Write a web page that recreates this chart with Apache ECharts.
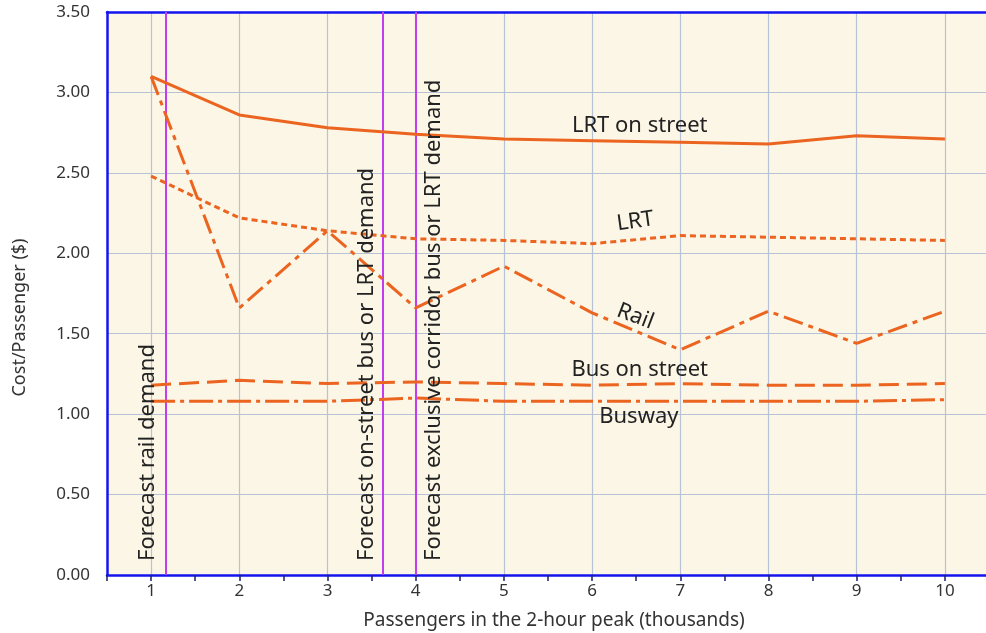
<!DOCTYPE html>
<html><head><meta charset="utf-8">
<script src="https://cdn.jsdelivr.net/npm/echarts@6/dist/echarts.min.js"></script>
<style>html,body{margin:0;padding:0;background:#fff}#c{width:986px;height:633px}</style>
</head><body><div id="c"></div>
<script>
// ---- data ----
const xValues = [1, 2, 3, 4, 5, 6, 7, 8, 9, 10];
const lrtOnStreet = [3.10, 2.86, 2.78, 2.74, 2.71, 2.70, 2.69, 2.68, 2.73, 2.71];
const lrt = [2.48, 2.22, 2.14, 2.09, 2.08, 2.06, 2.11, 2.10, 2.09, 2.08];
const rail = [3.10, 1.66, 2.14, 1.66, 1.92, 1.63, 1.40, 1.64, 1.44, 1.64];
const busOnStreet = [1.18, 1.21, 1.19, 1.20, 1.19, 1.18, 1.19, 1.18, 1.18, 1.19];
const busway = [1.08, 1.08, 1.08, 1.10, 1.08, 1.08, 1.08, 1.08, 1.08, 1.09];
const seriesNames = ['LRT on street', 'LRT', 'Rail', 'Bus on street', 'Busway'];
const forecastX = [1.17, 3.63, 4.0];
const forecastLabels = ['Forecast rail demand', 'Forecast on-street bus or LRT demand', 'Forecast exclusive corridor bus or LRT demand'];
const xName = 'Passengers in the 2-hour peak (thousands)';
const yName = 'Cost/Passenger ($)';

// ---- annotation anchors (data coords) ----
const seriesLabelAnchors = [[6.54, 2.790, 0], [6.49, 2.198, 8], [6.49, 1.607, -21], [6.54, 1.277, 0], [6.53, 0.984, 0]];
const forecastLabelAnchors = [[0.965, 0.087], [3.44, 0.087], [4.20, 0.087]];

const FONT = '"Noto Sans", sans-serif';
const ORANGE = '#EB6420';
const BLUE = '#1414F0';
const GRID = '#B7C2D6';
const dashes = ['solid', [6, 4], [20, 6, 5, 6], [20, 8], [24, 5, 4, 5]];
const allSeries = [lrtOnStreet, lrt, rail, busOnStreet, busway];

const chart = echarts.init(document.getElementById('c'), null, {renderer: 'canvas'});
const series = allSeries.map((arr, k) => ({
  name: seriesNames[k], type: 'line', symbol: 'none', z: 5,
  data: xValues.map((x, i) => [x, arr[i]]),
  lineStyle: {color: ORANGE, width: 3, type: dashes[k], cap: 'butt'}
}));
series.push({
  type: 'line', data: [], silent: true, z: 4,
  markLine: {
    silent: true, symbol: ['none', 'none'], label: {show: false},
    lineStyle: {color: '#C43BF0', width: 2, type: 'solid'},
    data: forecastX.map(x => ({xAxis: x}))
  }
});

chart.setOption({
  animation: false,
  backgroundColor: '#fff',
  grid: {left: 107, width: 882, top: 12, height: 563, show: true, containLabel: false,
    outerBoundsMode: 'none', backgroundColor: '#FCF6E6', borderWidth: 0},
  xAxis: [{
    type: 'value', min: 0.5, max: 10.5, interval: 0.5,
    name: xName, nameLocation: 'middle', nameGap: 36,
    nameTextStyle: {fontSize: 19, color: '#333', fontFamily: FONT, padding: [0, 0, 0, 12]},
    axisLine: {show: true, onZero: false, lineStyle: {color: BLUE, width: 2.5}},
    axisTick: {show: true, length: 6, lineStyle: {color: '#1a2070', width: 1.5}},
    axisLabel: {formatter: v => Number.isInteger(v) ? String(v) : '', fontSize: 17, color: '#333', margin: 8, fontFamily: FONT},
    splitLine: {show: true, lineStyle: {color: ['rgba(0,0,0,0)', GRID], width: 1.2}}
  }, {
    type: 'value', position: 'top', min: 0.5, max: 10.5,
    axisLine: {show: true, onZero: false, lineStyle: {color: BLUE, width: 2.5}},
    axisTick: {show: false}, axisLabel: {show: false}, splitLine: {show: false}
  }],
  yAxis: {
    type: 'value', min: 0, max: 3.5, interval: 0.5,
    name: yName, nameLocation: 'middle', nameGap: 78,
    nameTextStyle: {fontSize: 18, color: '#333', fontFamily: FONT, padding: [0, 48, 0, 0]},
    axisLine: {show: true, lineStyle: {color: BLUE, width: 2.5}},
    axisTick: {show: false},
    axisLabel: {formatter: v => v.toFixed(2), fontSize: 17, color: '#333', margin: 17, fontFamily: FONT},
    splitLine: {show: true, lineStyle: {color: GRID, width: 1.2}}
  },
  series: series
});

const graphics = [];
seriesLabelAnchors.forEach((a, k) => {
  const p = chart.convertToPixel({gridIndex: 0}, [a[0], a[1]]);
  graphics.push({type: 'text', x: p[0], y: p[1], rotation: a[2] * Math.PI / 180, z: 10,
    style: {text: seriesNames[k], fontSize: 22, fontFamily: FONT, fill: '#222', textAlign: 'center', textVerticalAlign: 'middle'}});
});
forecastLabelAnchors.forEach((a, k) => {
  const p = chart.convertToPixel({gridIndex: 0}, [a[0], a[1]]);
  graphics.push({type: 'text', x: p[0], y: p[1], rotation: Math.PI / 2, z: 10,
    style: {text: forecastLabels[k], fontSize: 22, fontFamily: FONT, fill: '#222', textAlign: 'left', textVerticalAlign: 'middle'}});
});
chart.setOption({graphic: graphics});
</script></body></html>
